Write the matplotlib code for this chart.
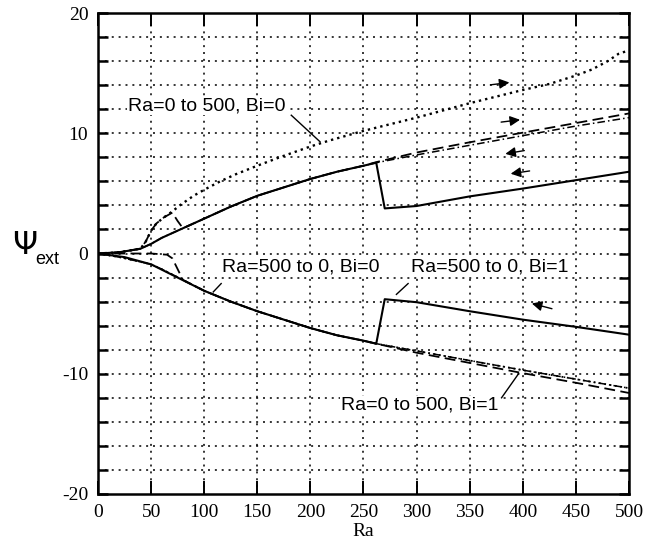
import matplotlib
matplotlib.use('Agg')
import matplotlib.pyplot as plt

# Ra = 500 -> 0, Bi = 1 (solid, with jump near Ra 265)
ra_rev1_up = [0, 20, 40, 50, 60, 80, 100, 125, 150, 175, 200, 225, 250, 262, 270, 300, 350, 400, 450, 500]
psi_rev1_up = [0, 0.1, 0.4, 0.8, 1.3, 2.1, 2.9, 3.9, 4.8, 5.5, 6.2, 6.8, 7.3, 7.55, 3.75, 3.95, 4.75, 5.4, 6.1, 6.8]
ra_rev1_lo = [0, 25, 50, 75, 100, 125, 150, 175, 200, 225, 250, 262, 270, 300, 350, 400, 450, 500]
psi_rev1_lo = [0, -0.3, -0.9, -2.0, -3.1, -4.0, -4.8, -5.5, -6.2, -6.8, -7.25, -7.5, -3.8, -4.05, -4.8, -5.5, -6.1, -6.75]

# Ra = 0 -> 500, Bi = 1 (dashed)
ra_fwd1_up = [0, 20, 40, 45, 50, 55, 62, 70, 75, 80, 100, 125, 150, 175, 200, 225, 250, 262, 300, 350, 400, 450, 500]
psi_fwd1_up = [0, 0.1, 0.4, 1.0, 1.9, 2.5, 3.0, 3.4, 2.7, 2.1, 2.9, 3.9, 4.8, 5.5, 6.2, 6.8, 7.3, 7.6, 8.4, 9.25, 10.05, 10.85, 11.65]
ra_fwd1_lo = [0, 25, 50, 65, 70, 75, 80, 100, 125, 150, 175, 200, 225, 250, 262, 300, 350, 400, 450, 500]
psi_fwd1_lo = [0, 0, 0, -0.1, -0.4, -1.3, -2.2, -3.1, -4.0, -4.8, -5.5, -6.2, -6.8, -7.25, -7.5, -8.25, -9.1, -9.95, -10.75, -11.6]

# Ra = 500 -> 0, Bi = 0 (dash-dot)
ra_rev0 = [0, 20, 40, 50, 60, 80, 100, 125, 150, 175, 200, 225, 250, 262, 300, 350, 400, 450, 500]
psi_rev0_up = [0, 0.1, 0.4, 0.8, 1.3, 2.1, 2.9, 3.9, 4.8, 5.5, 6.2, 6.8, 7.3, 7.55, 8.2, 9.0, 9.8, 10.6, 11.3]
psi_rev0_lo = [0, -0.3, -0.7, -0.9, -1.3, -2.2, -3.1, -4.0, -4.8, -5.5, -6.2, -6.8, -7.25, -7.5, -8.1, -8.9, -9.7, -10.45, -11.2]

# Ra = 0 -> 500, Bi = 0 (dotted)
ra_fwd0_up = [0, 20, 40, 45, 50, 55, 62, 70, 77, 90, 100, 115, 130, 150, 171, 200, 218, 250, 300, 350, 400, 425, 450, 465, 480, 490, 500]
psi_fwd0_up = [0, 0.1, 0.4, 1.0, 1.9, 2.5, 3.0, 3.5, 4.0, 4.8, 5.3, 6.0, 6.6, 7.3, 8.0, 8.9, 9.4, 10.2, 11.3, 12.5, 13.6, 14.1, 14.8, 15.3, 16.0, 16.6, 16.9]

xticks = [0, 50, 100, 150, 200, 250, 300, 350, 400, 450, 500]
yticks = list(range(-20, 21, 2))
ylabels = ['-20', '', '', '', '', '-10', '', '', '', '', '0', '', '', '', '', '10', '', '', '', '', '20']

fig = plt.figure(figsize=(6.55, 5.45), dpi=100)
ax = fig.add_axes([0.1496, 0.0936, 0.8107, 0.8825])

grid_ls = (0, (1.3, 3.2))
for x in xticks[1:-1]:
    ax.axvline(x, color='k', lw=1.1, ls=grid_ls, zorder=1)
for y in yticks[1:-1]:
    ax.axhline(y, color='k', lw=1.1, ls=grid_ls, zorder=1)

ax.plot(ra_fwd0_up, psi_fwd0_up, color='k', lw=1.7, ls=(0, (1, 1.7)), zorder=3)
ax.plot(ra_rev0, psi_rev0_lo, color='k', lw=1.3, ls=(0, (1, 2)), zorder=3)
ax.plot(ra_rev0, psi_rev0_up, color='k', lw=1.1, ls=(0, (5, 2, 1, 2)), zorder=3)
ax.plot(ra_rev0, psi_rev0_lo, color='k', lw=1.1, ls=(0, (5, 2, 1, 2)), zorder=3)
ax.plot(ra_fwd1_up, psi_fwd1_up, color='k', lw=1.3, ls=(0, (6, 3)), zorder=3)
ax.plot(ra_fwd1_lo, psi_fwd1_lo, color='k', lw=1.3, ls=(0, (6, 3)), zorder=3)
ax.plot(ra_rev1_up, psi_rev1_up, color='k', lw=1.5, zorder=4)
ax.plot(ra_rev1_lo, psi_rev1_lo, color='k', lw=1.5, zorder=4)

ax.set_xlim(0, 500)
ax.set_ylim(-20, 20)
ax.set_xticks(xticks)
ax.set_yticks(yticks)
ax.set_yticklabels(ylabels)
ax.tick_params(axis='x', direction='in', length=9.5, width=1.4, top=True, labelsize=14, pad=7)
ax.tick_params(axis='y', direction='in', length=7.5, width=1.8, right=True, labelsize=14, pad=7)
for lab in ax.get_xticklabels() + ax.get_yticklabels():
    lab.set_family('Liberation Serif')
for s in ax.spines.values():
    s.set_linewidth(1.8)

ax.set_xlabel('Ra', family='Liberation Serif', fontsize=14, labelpad=2)
fig.text(0.019, 0.548, r'$\Psi$', fontsize=23, family='Liberation Serif', ha='left', va='center')
fig.text(0.054, 0.523, 'ext', fontsize=13, family='Liberation Sans', ha='left', va='center')

tkw = dict(fontsize=14, family='Liberation Sans', va='center', ha='left', zorder=5)
bg = dict(facecolor='white', edgecolor='none', pad=0.5)
ax.text(28, 12.3, 'Ra=0 to 500, Bi=0', bbox=bg, **tkw)
ax.text(117, -1.15, 'Ra=500 to 0, Bi=0', bbox=bg, **tkw)
ax.text(295, -1.15, 'Ra=500 to 0, Bi=1', bbox=bg, **tkw)
ax.text(229, -12.6, 'Ra=0 to 500, Bi=1', bbox=bg, **tkw)

lkw = dict(color='k', lw=1.0, zorder=5)
ax.plot([182, 209], [11.5, 9.3], **lkw)
ax.plot([116, 108.5], [-2.5, -3.2], **lkw)
ax.plot([292, 281], [-2.5, -3.4], **lkw)
ax.plot([380, 396], [-12.0, -10.0], **lkw)

akw = dict(arrowstyle='-|>', color='k', lw=1.0, mutation_scale=15)
ax.annotate('', xy=(390, 14.25), xytext=(367, 14.0), arrowprops=akw)
ax.annotate('', xy=(400, 11.15), xytext=(377, 10.9), arrowprops=akw)
ax.annotate('', xy=(381, 8.25), xytext=(404, 8.6), arrowprops=akw)
ax.annotate('', xy=(386, 6.6), xytext=(409, 6.9), arrowprops=akw)
ax.annotate('', xy=(406, -4.1), xytext=(430, -4.65), arrowprops=akw)

fig.savefig('out.png', dpi=100)
